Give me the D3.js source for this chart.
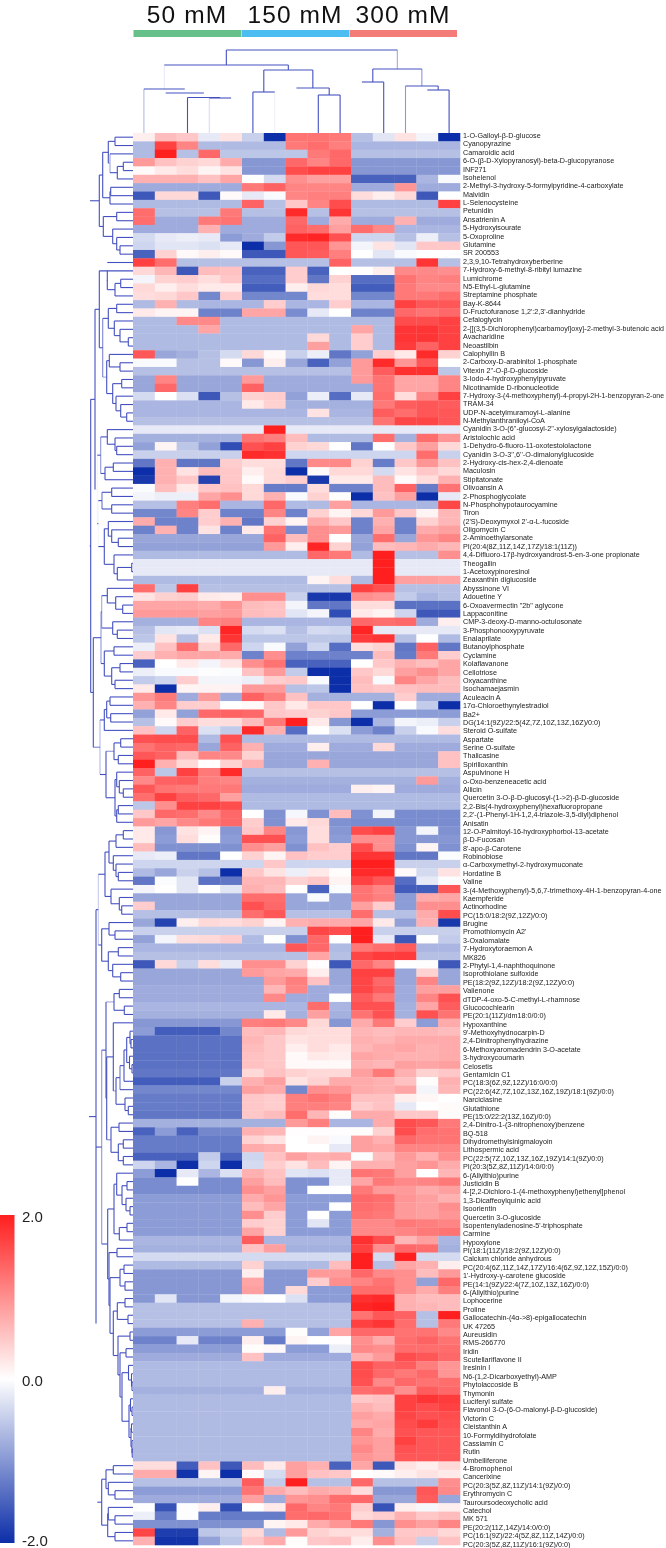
<!DOCTYPE html>
<html><head><meta charset="utf-8">
<script src="https://cdn.jsdelivr.net/npm/d3@7/dist/d3.min.js"></script>
<style>
html,body{margin:0;padding:0;background:#fff}
svg{display:block;filter:blur(0.35px)}
text{font-family:"Liberation Sans",Arial,sans-serif}
</style></head><body>
<svg id="chart" width="666" height="1548"></svg>
<script>
const groups=["50 mM","150 mM","300 mM"];
const groupColors=["#66c08a","#4cbdf0","#f47c78"];
const scaleTicks=[2,0,-2];
const metabolites=["1-O-Galloyl-β-D-glucose","Cyanopyrazine","Camaroidic acid","6-O-(β-D-Xylopyranosyl)-beta-D-glucopyranose","INF271","Isohelenol","2-Methyl-3-hydroxy-5-formylpyridine-4-carboxylate","Malvidin","L-Selenocysteine","Petunidin","Ansatrienin A","5-Hydroxyisourate","5-Oxoproline","Glutamine","SR 200553","2,3,9,10-Tetrahydroxyberberine","7-Hydroxy-6-methyl-8-ribityl lumazine","Lumichrome","N5-Ethyl-L-glutamine","Streptamine phosphate","Bay-K-8644","D-Fructofuranose 1,2':2,3'-dianhydride","Cefaloglycin","2-{[(3,5-Dichlorophenyl)carbamoyl]oxy}-2-methyl-3-butenoic acid","Avacharidine","Neoastilbin","Calophyllin B","2-Carboxy-D-arabinitol 1-phosphate","Vitexin 2''-O-β-D-glucoside","3-Iodo-4-hydroxyphenylpyruvate","Nicotinamide D-ribonucleotide","7-Hydroxy-3-(4-methoxyphenyl)-4-propyl-2H-1-benzopyran-2-one","TRAM-34","UDP-N-acetylmuramoyl-L-alanine","N-Methylanthraniloyl-CoA","Cyanidin 3-O-(6''-glucosyl-2''-xylosylgalactoside)","Aristolochic acid","1-Dehydro-6-fluoro-11-oxotestololactone","Cyanidin 3-O-3'',6''-O-dimalonylglucoside","2-Hydroxy-cis-hex-2,4-dienoate","Maculosin","Stipitatonate","Olivoansin A","2-Phosphoglycolate","N-Phosphohypotaurocyamine","Tiron","(2'S)-Deoxymyxol 2'-α-L-fucoside","Oligomycin C","2-Aminoethylarsonate","PI(20:4(8Z,11Z,14Z,17Z)/18:1(11Z))","4,4-Difluoro-17β-hydroxyandrost-5-en-3-one propionate","Theogallin","1-Acetoxypinoresinol","Zeaxanthin diglucoside","Abyssinone VI","Adouetine Y","6-Oxoavermectin \"2b\" aglycone","Lappaconitine","CMP-3-deoxy-D-manno-octulosonate","3-Phosphonooxypyruvate","Enalaprilate","Butanoylphosphate","Cyclamine","Kolaflavanone","Cellotriose","Oxyacanthine","Isochamaejasmin","Aculeacin A","17α-Chloroethynylestradiol","Ba2+","DG(14:1(9Z)/22:5(4Z,7Z,10Z,13Z,16Z)/0:0)","Steroid O-sulfate","Aspartate","Serine O-sulfate","Thalicasine","Spirilloxanthin","Aspulvinone H","o-Oxo-benzeneacetic acid","Allicin","Quercetin 3-O-β-D-glucosyl-(1->2)-β-D-glucoside","2,2-Bis(4-hydroxyphenyl)hexafluoropropane","2,2'-(1-Phenyl-1H-1,2,4-triazole-3,5-diyl)diphenol","Anisatin","12-O-Palmitoyl-16-hydroxyphorbol-13-acetate","β-D-Fucosan","8'-apo-β-Carotene","Robinobiose","α-Carboxymethyl-2-hydroxymuconate","Hordatine B","Valine","3-(4-Methoxyphenyl)-5,6,7-trimethoxy-4H-1-benzopyran-4-one","Kaempferide","Actinorhodine","PC(15:0/18:2(9Z,12Z)/0:0)","Brugine","Promothiomycin A2'","3-Oxalomalate","7-Hydroxytoraemon A","MK826","2-Phytyl-1,4-naphthoquinone","Isoprothiolane sulfoxide","PE(18:2(9Z,12Z)/18:2(9Z,12Z)/0:0)","Valienone","dTDP-4-oxo-5-C-methyl-L-rhamnose","Glucocochlearin","PE(20:1(11Z)/dm18:0/0:0)","Hypoxanthine","9'-Methoxyhydnocarpin-D","2,4-Dinitrophenylhydrazine","6-Methoxyaromadendrin 3-O-acetate","3-hydroxycoumarin","Celosetis","Gentamicin C1","PC(18:3(6Z,9Z,12Z)/16:0/0:0)","PC(22:6(4Z,7Z,10Z,13Z,16Z,19Z)/18:1(9Z)/0:0)","Narciclasine","Glutathione","PE(15:0/22:2(13Z,16Z)/0:0)","2,4-Dinitro-1-(3-nitrophenoxy)benzene","BQ-518","Dihydromethylsinigmaloyoin","Lithospermic acid","PC(22:5(7Z,10Z,13Z,16Z,19Z)/14:1(9Z)/0:0)","PI(20:3(5Z,8Z,11Z)/14:0/0:0)","6-(Allylthio)purine","Justicidin B","4-[2,2-Dichloro-1-(4-methoxyphenyl)ethenyl]phenol","1,3-Dicaffeoylquinic acid","Isoorientin","Quercetin 3-O-glucoside","Isopentenyladenosine-5'-triphosphate","Carmine","Hypoxylone","PI(18:1(11Z)/18:2(9Z,12Z)/0:0)","Calcium chloride anhydrous","PC(20:4(6Z,11Z,14Z,17Z)/16:4(6Z,9Z,12Z,15Z)/0:0)","1'-Hydroxy-γ-carotene glucoside","PE(14:1(9Z)/22:4(7Z,10Z,13Z,16Z)/0:0)","6-(Allylthio)purine","Lophocerine","Proline","Gallocatechin-(4α->8)-epigallocatechin","UK 47265","Aureusidin","RMS-266770","Iridin","Scutellariflavone II","Iresinin I","N6-(1,2-Dicarboxyethyl)-AMP","Phytolaccoside B","Thymonin","Luciferyl sulfate","Flavonol 3-O-(6-O-malonyl-β-D-glucoside)","Victorin C","Cleistanthin A","10-Formyldihydrofolate","Cassiamin C","Rutin","Umbelliferone","4-Bromophenol","Cancerixine","PC(20:3(5Z,8Z,11Z)/14:1(9Z)/0:0)","Erythromycin C","Tauroursodeoxycholic acid","Catechol","MK 571","PE(20:2(11Z,14Z)/14:0/0:0)","PC(16:1(9Z)/22:4(5Z,8Z,11Z,14Z)/0:0)","PC(20:3(5Z,8Z,11Z)/16:1(9Z)/0:0)"];
const heatValues=[
[.15,.6,.5,-.2,.25,-.45,-2,1.25,1.25,1.2,-.6,-.25,.25,-.1,-2],
[-.65,1.7,1.1,-.65,-.65,-.65,-.65,1.2,1.3,1.15,-.7,-.7,-.7,-.7,-.7],
[-.65,2,-.6,1.35,-.55,-.55,-.55,-.55,1.2,1.35,-.6,-.6,-.6,-.6,-.6],
[.9,.55,.4,.35,.75,-1,-1,1.35,1.1,1.35,-1,-1,-1,-1,-1],
[.05,.2,.3,.1,.25,-1,-1,1.6,1.7,1.7,-1,-1,-1,-1,-1],
[.7,.7,.7,.55,.8,0,-.35,1,.85,.85,-1.5,-1.5,-1.5,-.7,-.05],
[-.8,-.8,-.8,-.8,-.8,1.2,1.4,1.1,1.1,1.1,-.8,-.8,.95,-.8,-.8],
[-1.6,.35,.35,-1.6,.05,-.2,-.05,1.1,1.15,1.15,.3,.15,.35,-1.6,0],
[-.65,-.65,-.65,-.65,-.65,1.4,-.6,.5,1.1,1.6,-.65,-.65,-.65,-.65,1.7],
[1.3,-.6,-.6,-.6,1.2,-.6,-.6,1.9,-.6,1.8,-.6,-.6,-.6,-.6,-.6],
[1.3,-.8,-.8,1.2,1.25,-.8,-.8,1.35,-.8,.75,-.8,-.8,.7,-.8,-.8],
[-.8,-.8,-.8,.7,-.8,-.8,-.8,1.4,1.3,.85,1.3,1.05,-.7,-.7,-.7],
[-.35,-.2,-.15,-.2,-.95,-.8,-.5,1.9,1.95,1.55,-.4,-.4,-.6,-.15,-.6],
[-.4,-.25,-.25,-.3,-.2,-2,-1,1.5,1.5,.95,-.1,.25,-.25,.5,.5],
[-1.5,.4,.05,.15,.05,-1.6,-1.6,1.5,1.45,1.15,0,-.25,-.05,0,0],
[1.7,1.3,-.6,-.6,-.6,-.6,-.6,-.6,-.6,1.4,-.6,-.6,-.6,1.8,-.6],
[.35,.65,-1.6,.6,.55,-1.5,-1.5,.45,-1.5,0,0,.15,1.05,1.05,1],
[-.1,.4,.45,.3,.5,-1.4,-1.4,.45,-1.3,.4,-1.4,-1.4,1.25,1.1,1.15],
[.35,.15,.3,.2,.2,-1.55,-1.55,.15,.35,.3,-1.55,-1.55,1.2,1.05,1.05],
[.3,.35,.5,-1.15,.45,-1.15,-1.15,-1.15,.3,.3,-1.15,-1.15,1.2,1.2,1.3],
[-.65,.7,-.65,-.7,-.7,-.7,.45,-.7,-.7,.45,-.7,-.7,1.7,1.5,1.5],
[.2,.1,.1,-1.2,-1.2,.8,.8,-1.1,-.2,0,-1.2,-1.2,1.35,1.25,1.35],
[-.65,-.65,1.05,1.05,-.65,-.65,-.65,-.65,-.65,-.65,-.65,-.65,1.6,1.6,1.7],
[-.65,-.65,-.65,.8,-.65,-.65,-.65,-.65,-.65,-.65,.8,-.65,1.8,1.8,1.7],
[-.65,-.65,-.65,-.65,-.65,-.65,-.65,-.65,.35,-.65,.45,-.65,1.8,1.8,1.7],
[-.65,-.65,-.65,-.65,-.65,-.65,-.65,-.65,.85,-.65,.45,-.65,1.75,1.4,1.7],
[1.5,-.85,-.75,-.6,-.35,.35,.05,-.45,-.15,-1.3,-.9,.45,.2,1.9,.4],
[-.05,-.05,-.6,-.6,.05,-1,.15,-.85,-1.5,-.9,.9,1.9,.95,1.5,0],
[-.6,-.6,-.6,-.6,-.6,-.6,-.6,-.6,-.6,-.6,.9,1.45,1.85,1.85,-.55],
[-.85,1.1,-.85,-.85,-.85,.9,-.8,-.8,-.8,-.8,.9,1.25,.8,.8,1.1],
[-.85,1.35,-.85,-.85,-.85,1.4,-.8,-.8,-.8,-.8,-.8,1.25,.8,.8,1.1],
[-.35,0,-.3,-1.6,-.6,.4,.45,-.9,-.15,-1.4,-.2,1.3,.3,1.1,1.7],
[-.7,-.7,-.7,-.7,-.7,.2,.4,-.75,-.75,-.75,-.75,1.2,1.45,1.5,1.45],
[-.7,-.7,-.7,-.7,-.7,-.7,-.7,-.7,.25,-.7,-.7,1.45,1.3,1.5,1.5],
[-.6,-.6,-.6,-.6,-.6,-.6,-.6,-.6,-.6,-.6,-.6,1.25,1.65,1.65,1.5],
[-.2,-.2,-.2,-.2,-.2,-.2,2,-.2,-.2,-.2,-.2,-.2,-.2,-.2,-.2],
[-.75,-.75,-.75,-.75,-.75,1.25,1.15,.6,-.65,-.65,-.65,1.3,-.75,1.3,.95],
[-.9,.1,-.55,-.9,-1.7,1.55,1.7,.4,.35,0,-1.3,0,.5,.85,.35],
[-.45,-.45,-.45,-.45,-.45,1.9,1.85,-.4,-.4,-.4,-.4,-.4,-.4,1.3,-.45],
[-1.3,.7,-1.3,-1.3,.45,.3,.3,-1.3,1.05,1.05,.4,-1.25,.5,.95,.55],
[-2,.7,.25,.6,.5,.15,.35,-2,.05,.35,.35,-.35,.25,.5,.35],
[-1.9,.7,.5,-1.8,.5,.05,.35,.45,-1.9,.2,.2,.6,.05,.3,.7],
[-.03,.6,.2,.5,.55,.35,-1.25,-1.25,.3,-1.2,-1.2,.6,1.4,-1.25,1.25],
[-.1,-.15,-.15,.8,1,.35,.7,-.05,.4,-.02,-2,.55,.85,-2,-.2],
[-.6,-.6,1.15,1.3,-.7,-.7,1.35,-.65,-.65,.85,-.7,-.7,-.7,-.7,1.65],
[-1.15,-1.15,1.1,.45,-1.2,-1.2,1.1,-1.2,.4,.1,.35,.9,.5,.1,.65],
[.75,-1.2,-1.2,.45,.7,-1.3,.4,.1,.75,.5,-1.2,.7,-1.2,.4,.65],
[-1.2,.7,-1.2,.25,-1.2,.2,1.25,-1.1,1,.9,-1.2,.8,-1.2,.75,.85],
[-.85,-.85,-.85,-.85,-.85,-.85,1.4,.6,1,0,-.85,1.3,-.85,.95,1.1],
[-.9,-.9,-.9,-.9,-.9,-.9,.9,.15,1.95,.4,-.9,.6,.65,.75,.65],
[-.65,-.65,-.65,-.65,-.65,-.65,-.65,-.65,1.35,1.2,-.65,2,-.6,-.6,1],
[-.2,-.2,-.2,-.2,-.2,-.2,-.2,-.2,-.2,-.2,-.2,2,-.2,-.2,-.2],
[-.2,-.2,-.2,-.2,-.2,-.2,-.2,-.2,-.2,-.2,-.2,2,-.2,-.2,-.2],
[-.65,-.65,-.65,-.65,-.65,-.65,-.65,-.65,.1,.3,-.65,2,.85,.85,.8],
[1.3,-.55,1.7,-.6,-.6,-.6,-.6,-.6,-.6,-.6,1.7,1.55,-.6,-.6,-.6],
[.25,.4,.45,.2,.15,1,1,-.45,-1.9,-1.9,1,.95,-.5,-.7,-.6],
[.8,.8,.8,.75,.95,.6,.55,-.1,-1.3,-1.3,.3,.3,-1.35,-1.35,-1.35],
[.9,.9,.9,.85,.9,.6,.55,-.25,-.1,-1.7,.2,.1,-.4,-1.6,-1.6],
[-.75,-.75,-.75,1.1,1.15,-.7,-.7,-.7,-.7,-.7,1.35,1.3,1.35,-.8,.15],
[-.6,-.25,-.2,-.3,1.95,-.35,-.3,-.6,-.35,-.4,1.95,-.2,-.2,-.2,-.2],
[-.55,.25,-.6,.2,1.8,-.55,-.55,-.55,-.55,-.55,1.75,1.8,-.6,0,-.65],
[-.15,.55,1.3,.4,1.35,-.4,-.05,-.9,-.4,-1.4,.3,.4,-1.3,1.4,-1.3],
[.45,.7,.8,.8,.75,-1.2,1,-1.2,-1.2,-1.2,-1.2,.6,-1.25,1.2,.45],
[-1.5,0,.2,-.1,.25,1,1.25,-1.5,-1.5,-1.5,0,.5,.7,.6,.8],
[-.15,-.05,-.05,-.02,-.03,.55,.9,-.5,-2,-2,.5,.35,.85,1,.8],
[-.5,-.4,.45,-.1,-.1,-.15,.45,.5,-.05,-2,.6,-.05,1.1,.8,.6],
[.2,-2,.1,.12,.12,.9,.9,-.6,-.55,-2,.55,.5,.55,.6,.6],
[.95,1.2,-.8,.9,-.8,1.4,1.15,.55,-.75,-.75,-.75,-.75,.45,-.8,-.8],
[.7,1.1,.45,.45,0,.05,.5,.2,.5,.5,0,-2,0,-.5,-2],
[-.9,.2,-.9,1.35,1.4,1.35,.5,.45,.4,.5,-.95,-.95,-.95,-.95,-.95],
[-.6,.05,.45,.3,.3,.6,1.2,2,.2,-1,-2,-.7,-.1,-.15,-.45],
[.55,-.4,1.4,-.3,-.5,1.9,.7,-1.4,0,-.3,-.95,-1.2,-.45,-.05,.3],
[1.55,1.6,1.6,-.65,1.55,-.65,-.65,-.65,-.65,-.65,-.65,-.65,-.65,-.65,-.65],
[1.25,1.4,1.35,-.85,1.4,.7,-.8,-.8,.15,-.8,-.8,.35,-.8,-.8,-.8],
[1.5,1.4,.6,1.1,1.05,.4,-.85,-.85,-.85,-.85,-.85,-.85,-.85,-.85,.55],
[2,.7,.35,.02,.4,.7,-.85,-.85,.7,-.85,-.85,-.85,-.85,-.85,.55],
[1.4,-.55,1.7,1.2,1.9,-.6,-.6,-.6,-.6,-.6,-.6,-.6,-.6,-.6,-.6],
[1.05,1.4,1.45,1.15,1.1,-.75,-.75,-.75,-.75,-.75,-.75,-.75,-.75,.9,-.75],
[1.5,1.25,1.2,1.2,1.2,-.8,-.8,-.8,-.8,-.8,.15,.1,-.8,-.8,-.8],
[1.3,1.7,1.45,1.35,.85,-.65,-.65,-.65,-.65,-.65,-.65,-.65,-.65,-.65,-.65],
[-.55,1,1.7,1.7,1.6,-.65,-.65,-.65,-.65,-.65,-.65,-.65,-.65,-.65,-.65],
[.5,1.35,1.3,1.05,1.35,0,-1.05,-.08,-1.05,.6,-1.05,-.1,-1.1,-1.1,-1.1],
[.9,.8,1.05,1.2,1.35,.45,-1.05,.2,.35,-1.05,-1.1,-1.1,-1.1,-1.1,-1.1],
[.2,-1,.25,.1,-1,.5,1.1,-1,.3,-1,1.6,1.7,-1,-.1,-1.05],
[.2,-.95,.3,.03,-.95,1.55,1.55,-.95,.3,-.95,1,1,-1,-1,-1],
[.6,-1.05,-1.05,-1.05,-1.05,1,.85,-1.05,.55,.45,1.6,1,-1.05,.1,-1.05],
[-.2,-.15,-1.3,-1.3,0,.4,.1,.55,.45,.45,1.8,1.8,-1.3,-1.3,-.03],
[-.4,-.4,-.4,-.4,-.4,-.4,.5,-.4,-.4,-.4,2,2,-.45,-.45,-.45],
[-.65,-.85,-.45,-.6,-2,.5,.25,-.15,.2,.03,1.9,1.9,.05,-.35,.25],
[-1.3,-.03,-.25,-1.35,-1.3,.65,.65,.4,.5,.1,1.7,1.5,-1.4,-.2,-.03],
[-.1,0,-.25,0,-.25,.7,.6,0,-1.5,-.03,1.25,1.1,-1.55,-1.55,1.5],
[-.85,-.85,-.85,-.85,-.85,1.3,1.3,-.85,-.05,-.85,1.25,1.15,-.95,.75,.8],
[.45,-.85,-.85,-.85,-.85,1.55,1.35,-.85,-.85,-.85,.85,.45,-.95,1,1],
[-.6,-.6,-.6,-.6,-.6,1.3,1.5,-.6,-.6,-.6,1.3,-.6,-.6,.75,1.6],
[-.85,-1.8,.15,.35,.3,.4,.1,.7,.75,.75,.8,.2,-.9,.7,-1.9],
[-.45,-.45,-.45,-.45,-.45,-.45,-.45,-.45,1.65,1.6,2,-.45,-.45,-.45,-.45],
[-.9,-.1,.3,.35,.45,-.65,0,-1.05,1.35,0,2,-.2,-1.6,0,-.5],
[-.7,-.7,-.7,-.7,-.7,-.7,-.7,1.5,1.35,-.65,1.2,1.3,1.45,-.7,-.7],
[-.6,-.6,-.6,-.6,-.6,-.6,-.6,-.6,.8,-.6,1.65,1.75,1.75,-.6,-.6],
[-1.6,.35,-.45,.3,-.2,1,1,.4,.02,-1.6,1.35,1.1,0,-.02,-1.6],
[-.85,-.85,-.85,-.85,-.85,.9,.8,.75,.15,-.85,1.7,1.7,-.85,.4,-.85],
[-.85,-.85,-.85,-.85,-.85,-.85,.9,1.15,.55,-.85,1.65,1.35,-.85,1.1,-.85],
[-.8,-.8,-.8,-.8,-.8,-.8,.65,1.1,-.8,-.8,1.65,1.45,-.8,.85,.85],
[-.8,-.8,-.8,-.8,-.8,-.8,1.05,-.8,-.8,0,1.45,1.2,-.8,1.1,1.55],
[-.7,-.7,-.7,-.7,-.7,-.7,-.7,-.7,1.3,-.7,1.55,1.55,-.75,.8,1.45],
[-.75,-.75,-.75,-.75,-.75,-.75,.2,-.75,.85,-.75,1.25,1.55,-.75,1.55,1.25],
[-1,-1,-1,-1,-1,1.15,1.2,1.05,.35,-1,.75,1.2,.45,-.95,.75],
[-.95,-1.55,-1.55,-1.55,-1.15,.6,.65,.35,.3,.3,.65,.6,.65,.65,.6],
[-1.35,-1.35,-1.35,-1.35,-1.35,.65,.5,.25,.3,.3,.7,.65,.75,.75,.75],
[-1.35,-1.35,-1.35,-1.35,-1.35,.6,.5,.15,.3,.2,.65,.75,.8,.7,.75],
[-1.35,-1.35,-1.35,-1.35,-1.35,.55,.5,.05,.2,.15,.8,.75,.7,.7,.75],
[-1.35,-1.35,-1.35,-1.35,-1.35,.55,.5,.05,.05,.05,.7,.65,.85,.8,.85],
[-1.3,-1.3,-1.3,-1.3,-1.3,.35,.55,.4,.35,.35,.85,1.2,.7,.4,.5],
[-1.55,-1.55,-1.55,-1.55,-.45,.7,.85,.25,.4,.75,.75,.7,.55,.03,.7],
[-1.15,-1.15,-1.15,-1.15,-1.15,.85,.75,-1.15,1,.95,.75,.7,.8,-.1,.65],
[-1.25,-1.25,-1.25,-1.25,-1.25,.5,.45,1.15,1.25,1.15,.55,.55,.15,.08,0],
[-1.25,-1.25,-1.25,-1.25,-1.25,.5,.45,1.15,1.15,1.1,.45,.55,-.2,0,.04],
[-1.3,-1.3,-1.3,-1.3,-1.3,.5,.6,1.3,.65,.03,.75,.75,.5,.5,.04],
[-.75,-.75,-.75,-.75,-.75,-.75,-.75,.9,1.15,-.7,-.7,.75,1.6,1.5,1.2],
[-1.5,-.95,-1.5,-1.15,-1.15,.7,.65,.02,.02,.02,.03,.4,1.6,1.3,1.25],
[-1.25,-1.25,-1.25,-1.25,-1.25,.4,.25,0,.1,-.05,.85,.7,1.35,1.25,1.25],
[-1.25,-1.25,-1.25,-1.25,-1.25,.75,.7,0,0,-.2,.85,.8,1.1,1.1,1.1],
[-1.5,-1.5,-1.5,-.5,-1.5,-.4,.55,.85,.7,.75,-.03,.6,.9,.7,1],
[-.4,-.7,-2,-.4,-2,-.35,.45,.25,.6,.1,.7,.7,.85,.95,.75],
[-.95,-2,-.2,-.7,-.3,.7,.55,-.25,-.3,-.2,1.25,1.2,.85,0,.65],
[-1.1,-1.1,0,-1.1,-1.1,.85,.6,-1.05,-1.05,-.2,.8,1.2,1.05,1.1,1.2],
[-1.1,-1.1,-1.1,-1.1,-1.1,1,.85,-1.05,0,0,1.2,.9,.9,.75,.85],
[-.95,-.95,-.95,-.95,-.95,.75,.95,-.95,-.95,-.95,1.35,1.3,.95,.85,.7],
[-.95,-.95,-.95,-.95,-.95,.6,.8,-.95,-.95,0,1.3,1.25,.9,.85,1],
[-.95,-.95,-.95,-.95,-.95,1,.45,-.95,0,-.95,1.25,1.2,.9,.85,.95],
[-.95,-.95,-.95,-.95,-.95,.45,.4,-.95,-.25,-.95,1.05,1.05,1.2,1.15,1.1],
[-.95,-.95,-.95,-.95,-.95,.8,.4,-.95,-.95,-.95,1.05,1.05,1.1,1.2,1.25],
[-.7,-.7,-.7,-.7,-.7,1.45,-.7,-.7,-.7,-.7,1.85,1.6,.65,.85,-.7],
[-.75,-.75,-.75,-.75,-.75,.55,.85,-.75,-.75,-.75,1.7,1,1.35,1.3,-.75],
[-.35,-.35,-.35,-.35,-.35,-.35,-.35,-.35,-.35,-.35,2,-.35,2,-.35,-.35],
[-.65,-.65,-.65,-.65,-.65,.4,-.65,-.65,-.65,.6,2,-.6,.8,.7,.15],
[-1,-1,-1,-1,-1,.15,-1,-1,.9,.9,1.35,1.05,1,.6,.9],
[-1,-1,-1,-1,-1,.8,-1,-1,.45,1,1.1,1.25,1,-.9,1.35],
[-1,-1,-1,-1,-1,.85,-1,.35,-.95,-.95,1.3,1.3,1,.75,1.15],
[-1,-.25,-1,-1,-.1,-.05,0,-.3,-.95,-.95,1.85,1.9,.7,.6,.6],
[-.6,-.6,-.6,-.6,-.6,-.6,-.6,-.6,-.6,-.6,1.95,2,.7,.65,.6],
[-.6,-.6,-.6,-.6,-.6,-.6,-.6,-.6,-.6,-.6,1.25,1.5,1.4,-.6,2],
[-.6,-.6,-.6,-.6,-.6,.7,-.6,-.6,-.6,-.6,1.7,1.8,1.3,-.6,1.2],
[-.95,-.95,-.95,-.95,-.95,-.95,-.95,.03,-.9,.8,1.35,1.35,1.25,1.25,1.05],
[-1.2,-1.2,-.2,-1.2,-1.2,.15,-1.25,.1,0,.02,1,.75,1.3,1.4,1.25],
[-.95,-.95,-.95,-.95,-.95,.03,.05,-.95,-.95,-.15,1.05,1,1.3,1.3,1.3],
[-.8,-.8,-.8,-.8,-.8,.55,-.8,-.8,-.8,-.8,.7,.9,1.6,1.5,1.35],
[-.65,-.65,-.65,-.65,-.65,-.65,-.65,-.65,-.65,-.65,1.6,1.4,1.45,1.15,.95],
[-.65,-.65,-.65,-.65,-.65,-.65,-.65,-.65,-.65,-.65,1.6,1.35,1.2,1.35,.95],
[-.65,-.65,-.65,-.65,-.65,-.65,-.65,-.65,-.65,-.65,1.55,1.05,1.35,1.25,1.3],
[-.75,-.75,-.75,-.75,-.75,-.75,.15,-.75,-.75,-.75,1.3,1.35,1,1.45,1.35],
[-.65,-.65,-.65,-.65,-.65,-.65,-.65,-.65,-.65,-.65,.5,.55,1.7,1.8,1.75],
[-.65,-.65,-.65,-.65,-.65,-.65,-.65,-.65,-.65,-.65,.7,.6,1.7,1.6,1.7],
[-.65,-.65,-.65,-.65,-.65,-.65,-.65,-.65,-.65,-.65,.85,.75,1.65,1.55,1.6],
[-.65,-.65,-.65,-.65,-.65,-.65,-.65,-.65,-.65,-.65,.75,.8,1.6,1.75,1.55],
[-.65,-.65,-.65,-.65,-.65,-.65,-.65,-.65,-.65,-.65,1.1,.75,1.55,1.5,1.5],
[-.65,-.65,-.65,-.65,-.65,-.65,-.65,-.65,-.65,-.65,.95,.85,1.7,1.5,1.5],
[-.65,-.65,-.65,-.65,-.65,-.65,-.65,-.65,-.65,-.65,1.05,.85,1.55,1.5,1.5],
[-.65,-.65,-.65,-.65,-.65,-.65,-.65,-.65,-.65,-.65,.95,.85,1.5,1.5,1.5],
[.3,.3,-1.55,.55,-1.6,.6,.2,.85,.7,-1.5,.8,-1.6,.25,.15,.35],
[.75,.75,-1.95,.1,-2,.05,-.35,.85,.55,.5,0,.05,.15,.25,.2],
[-.6,-.6,-.6,-.6,-.6,1.45,-.5,2,-.6,-.6,1.35,-.6,-.6,-.6,1],
[-.95,-.95,-.95,-.95,-.95,1.25,.75,.6,.75,.7,.3,-1,-1,1.5,1.05],
[-.8,-.8,-.8,-.8,-.8,.85,-.8,.95,1,1.3,1.35,-.85,-.85,1.45,-.85],
[0,-1.65,-.02,.15,-1.7,0,.2,1.35,1.1,1.2,.45,-1.65,.15,-.08,.15],
[-.15,-1.25,-.02,-1.25,-1.25,-1.25,-1.25,1.3,1.35,1.25,.35,.45,.7,.5,.6],
[-1.05,-1.05,-1.05,-1.05,-1.05,-1.05,.1,.2,.75,.95,1.2,-1,1,.85,1.1],
[1.65,-1.85,-1.85,-.55,-.45,.35,-.65,.9,.4,.3,.3,-.75,.5,.5,.35],
[.7,-1.95,-1.95,-.9,-.55,.5,.75,.03,.5,.55,.15,1,.55,-.45,.55]
];

// tree helpers: n(mergeHeight, ...children); a bare number is a leaf index
const leaf=i=>({h:0,leaf:i,stem:1,bar:1});
const n=(h,...kids)=>({h,kids:kids.map(k=>typeof k==="number"?leaf(k):k),stem:1,bar:1});
const fade=(o,k)=>{const m=typeof k==="number"?leaf(k):k;m.stem=o;return m;};
const pale=(o,k)=>{k.bar=o;return k;};

const columnTree=n(83,
  n(68,
    fade(.12,n(44,fade(.4,0),fade(0,n(40,fade(0,1),fade(0,n(35.5,2,fade(0,n(35,fade(.2,3),fade(0,4))))))))),
    n(63,n(41,5,fade(.08,6)),n(45,fade(0,7),n(38,8,9)))),
  fade(.5,n(64,n(51,fade(0,10),11),fade(.6,n(47,fade(.6,12),n(43,fade(0,13),14))))));

const treeA=n(33.7,
  n(30.3,n(24.7,n(18,0,1),pale(.5,fade(.4,n(23,2,n(15.7,n(9.7,3,4),5))))),n(23,n(22.3,6,7),8)),
  n(29.7,n(16.3,9,10),n(20.3,11,n(16.3,12,n(13,13,14)))));
const treeC1=n(33.7,16,pale(.7,n(30.3,
  n(24.7,n(16.3,20,21),n(18.7,22,n(13,23,n(4.7,24,25)))),
  fade(.5,n(26.3,n(23.7,26,n(13,27,28)),n(20.3,n(11.3,29,30),n(17,31,n(12.3,32,n(6.3,33,34))))))
)));
const treeC2=pale(.05,n(35.7,
  pale(.6,n(32.3,n(25.7,35,n(18,36,n(16.3,37,38))),n(28,n(19.7,39,40),41))),
  pale(.05,n(34.7,
    pale(.8,n(31,n(21.3,42,43),n(21.3,44,45))),
    n(28.7,n(24.7,46,n(21.3,47,n(14.7,48,49))),n(19,50,n(15.7,n(1.3,51,52),53)))))));
const treeP=n(38,treeC1,fade(.06,treeC2));
const treeQ=n(39.7,
  pale(.6,n(32,
    pale(.5,n(31.3,n(25.7,54,n(17.3,55,n(10.3,56,57))),n(20.3,58,n(15.7,59,60)))),
    n(28.7,n(19,61,62),n(21.3,n(13,63,64),n(18,65,66))))),
  fade(.7,pale(.4,n(33,
    n(28.7,n(26.3,n(23,67,68),n(22.3,69,70)),71),
    n(27,fade(.6,n(19,n(12.3,72,73),n(14.7,74,75))),n(18,n(16.3,76,n(13.7,77,n(9.7,78,79))),n(16.3,n(14.7,80,81),82)))))));
const treePQ=n(42.3,treeP,treeQ);

const k297=n(28,n(24,n(17,n(9.7,83,84),85),n(19.7,86,n(17,87,n(14.7,88,89)))),n(22,90,n(13.7,91,n(11.3,92,93))));
const k507=n(31.3,n(24,94,n(18,95,96)),n(24.7,n(14.7,97,98),n(20.3,99,n(12.3,100,101))));
const k958=n(17,pale(.8,n(13,n(9,n(6.3,n(3,107,n(2,108,109)),n(3.5,110,n(1,111,112))),113),114)),n(8,115,n(4.7,116,117)));
const k1090=n(22,n(14,118,119),n(14.7,n(9.7,120,121),n(9.7,122,123)));
const k970=n(26.3,n(19.7,106,fade(.5,k958)),fade(.7,k1090));
const kA=n(19,n(16.3,124,n(11,n(6,125,126),n(7,127,n(3,128,129)))),n(13.7,n(6,130,131),132));
const kE=n(15,n(3,143,144),n(13,n(7,145,146),n(11,n(4.5,147,n(1.5,148,n(1,149,150))),n(4,n(2.5,151,n(1,152,153)),n(2,n(1.5,154,155),n(1,156,n(.8,157,158)))))));
const kC=n(23,n(13,n(9,135,136),n(8,137,138)),n(19.7,n(15.7,n(8,139,140),n(5,141,142)),kE));
const kB=n(24,n(16,133,134),kC);
const treeR=n(37,
  pale(.3,n(34.7,k297,k507)),
  pale(.6,n(31.3,n(27,fade(.5,n(19,n(13.7,102,103),n(8.7,104,105))),k970),n(25.3,kA,kB))),
  fade(0,142));
const treeS=n(31.3,
  n(27,n(19.7,159,160),n(24.7,161,n(18,162,163))),
  n(25.3,n(24.7,164,n(18,165,166)),n(18,167,168)));
// separate tick belonging to the 17-19 cluster
const treeC1b=n(25.7,fade(0,16),n(18,n(12.3,17,18),19));
const forest=[[43,treeA],[25.7,leaf(15)],[43.3,treePQ],[44,treeR],[35.7,treeS],[26.3,treeC1b]];

const svg=d3.select("#chart");
const heatLeft=133,heatRight=460,heatTop=133,heatBottom=1545;
const x=d3.scaleBand().domain(d3.range(15)).range([heatLeft,heatRight]);
const y=d3.scaleBand().domain(d3.range(metabolites.length)).range([heatTop,heatBottom]);
const labelY=d3.scaleLinear().domain([0,metabolites.length-1]).range([135.5,1544]);
const color=d3.scaleLinear().domain([-2,0,2]).range(["#0c2ea8","#ffffff","#ff1f1f"]);
const groupX=d3.scaleBand().domain(groups).range([133,457]);

// titles and group bar
svg.selectAll("text.title").data(groups).join("text").attr("class","title")
  .attr("x",d=>groupX(d)+groupX.bandwidth()/2).attr("y",22.5).attr("text-anchor","middle")
  .attr("font-size",24.5).attr("letter-spacing","1.1").attr("fill","#111").text(d=>d);
svg.selectAll("rect.group").data(groups).join("rect").attr("class","group")
  .attr("x",d=>groupX(d)+.5).attr("y",30).attr("width",groupX.bandwidth()-.5).attr("height",7)
  .attr("fill",(d,i)=>groupColors[i]);

// heat cells
const cells=heatValues.flatMap((r,i)=>r.map((v,j)=>({i,j,v})));
svg.append("g").selectAll("rect").data(cells).join("rect")
  .attr("x",d=>x(d.j)).attr("y",d=>y(d.i))
  .attr("width",x.bandwidth()+.3).attr("height",y.bandwidth()+.3)
  .attr("fill",d=>color(d.v));

// row labels: the longest are condensed so they end inside the page
const labelRoom=201;
svg.append("g").selectAll("text").data(metabolites).join("text")
  .attr("x",463).attr("y",(d,i)=>labelY(i)).attr("dy","0.35em")
  .attr("font-size",7.2).attr("fill","#222").text(d=>d)
  .each(function(){
    if(this.getComputedTextLength()>labelRoom){
      d3.select(this).attr("textLength",labelRoom).attr("lengthAdjust","spacingAndGlyphs");
    }
  });

// dendrograms
const lineColor="#4450c0";
function layout(node,leafPos,segs){
  if(node.kids===undefined){node.pos=leafPos(node.leaf);return node.pos;}
  const ps=node.kids.map(k=>layout(k,leafPos,segs));
  node.pos=(ps[0]+ps[ps.length-1])/2;
  segs.push({h1:node.h,h2:node.h,p1:ps[0],p2:ps[ps.length-1],o:node.bar});
  node.kids.forEach(k=>segs.push({h1:node.h,h2:k.h,p1:k.pos,p2:k.pos,o:k.stem}));
  return node.pos;
}
// rows
const rowH=d3.scaleLinear().domain([0,44]).range([heatLeft,heatLeft-44]);
const rowSegs=[];
forest.forEach(([stem,t])=>{
  layout(t,i=>y(i)+y.bandwidth()/2,rowSegs);
  rowSegs.push({h1:stem,h2:t.h,p1:t.pos,p2:t.pos,o:1});
});
svg.append("g").selectAll("line").data(rowSegs.filter(s=>s.o>0)).join("line")
  .attr("x1",d=>rowH(d.h1)).attr("x2",d=>rowH(d.h2)).attr("y1",d=>d.p1).attr("y2",d=>d.p2)
  .attr("stroke",lineColor).attr("stroke-width",1.1).attr("stroke-opacity",d=>d.o);
// columns
const colH=d3.scaleLinear().domain([0,83]).range([heatTop,50]);
const colSegs=[];
layout(columnTree,j=>x(j)+x.bandwidth()/2,colSegs);
svg.append("g").selectAll("line").data(colSegs.filter(s=>s.o>0)).join("line")
  .attr("x1",d=>d.p1).attr("x2",d=>d.p2).attr("y1",d=>colH(d.h1)).attr("y2",d=>colH(d.h2))
  .attr("stroke",lineColor).attr("stroke-width",1.1).attr("stroke-opacity",d=>d.o);

// colour bar
const barY=d3.scaleLinear().domain([2,-2]).range([1215,1543]);
const grad=svg.append("defs").append("linearGradient").attr("id","cbar")
  .attr("x1",0).attr("x2",0).attr("y1",0).attr("y2",1);
grad.selectAll("stop").data(scaleTicks).join("stop")
  .attr("offset",d=>(barY(d)-barY(2))/(barY(-2)-barY(2))).attr("stop-color",d=>color(d));
svg.append("rect").attr("x",0).attr("y",barY(2)).attr("width",14.5)
  .attr("height",barY(-2)-barY(2)).attr("fill","url(#cbar)");
const tickY=d3.scaleOrdinal().domain(scaleTicks).range([1222,1386,1546]);
svg.selectAll("text.tick").data(scaleTicks).join("text").attr("class","tick")
  .attr("x",22).attr("y",d=>tickY(d)).attr("font-size",15).attr("fill","#222")
  .text(d=>d.toFixed(1));
</script>
</body></html>
